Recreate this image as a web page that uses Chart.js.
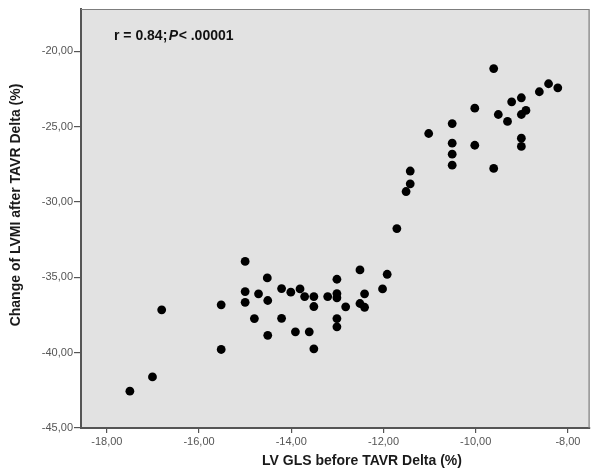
<!DOCTYPE html>
<html>
<head>
<meta charset="utf-8">
<script src="https://cdn.jsdelivr.net/npm/chart.js@4/dist/chart.umd.min.js"></script>
<style>
  html, body { margin: 0; padding: 0; background: #fff; }
</style>
</head>
<body>
<canvas id="scatter" width="594" height="469"></canvas>
<script>
// LV GLS delta (x) vs change of LVMI (y)
const glsDelta = [
  -17.50, -17.01, -16.81, -15.52, -15.52, -15.00, -15.00, -15.00, -14.80, -14.71,
  -14.52, -14.51, -14.51, -14.21, -14.21, -14.01, -13.91, -13.81, -13.71, -13.61,
  -13.51, -13.51, -13.51, -13.21, -13.01, -13.01, -13.01, -13.01, -13.01, -12.82,
  -12.51, -12.51, -12.41, -12.41, -12.02, -11.92,
  -11.71, -11.51, -11.42, -11.42, -11.02, -10.51, -10.51, -10.51, -10.51, -10.02,
  -10.02, -9.61, -9.61, -9.51, -9.31, -9.22, -9.01, -9.01, -8.91, -9.01,
  -9.01, -8.62, -8.42, -8.22
];
const lvmiDelta = [
  -42.56, -41.61, -37.16, -36.83, -39.79, -33.95, -35.95, -36.66, -37.74, -36.10,
  -35.04, -36.54, -38.85, -35.75, -37.72, -35.99, -38.62, -35.77, -36.28, -38.62,
  -36.28, -36.94, -39.75, -36.28, -35.13, -36.08, -36.36, -37.74, -38.29, -36.96,
  -34.51, -36.74, -36.99, -36.10, -35.77, -34.80,
  -31.77, -29.31, -28.80, -27.95, -25.46, -24.80, -26.10, -26.83, -27.56, -23.78,
  -26.24, -21.15, -27.78, -24.20, -24.66, -23.36, -23.09, -24.20, -23.93, -25.77,
  -26.32, -22.69, -22.16, -22.43
];
const xTicks = [-18, -16, -14, -12, -10, -8];
const yTicks = [-45, -40, -35, -30, -25, -20];
const xTitle = "LV GLS before TAVR Delta (%)";
const yTitle = "Change of LVMI after TAVR Delta (%)";
const statParts = ["r = 0.84;", "P", "< .00001"];

const FONT = '"Liberation Sans", Arial, sans-serif';

function fmt(v) {
  return Number(v).toFixed(2).replace(".", ",");
}

const plotDecor = {
  id: "plotDecor",
  beforeDraw(chart) {
    const { ctx, chartArea: a } = chart;
    ctx.save();
    ctx.fillStyle = "#ffffff";
    ctx.fillRect(0, 0, chart.width, chart.height);
    ctx.fillStyle = "#e2e2e2";
    ctx.fillRect(a.left, a.top, a.right - a.left, a.bottom - a.top);
    ctx.restore();
  },
  afterDraw(chart) {
    const { ctx, chartArea: a } = chart;
    ctx.save();
    // thin frame on top and right
    ctx.strokeStyle = "#7d7d7d";
    ctx.lineWidth = 1.2;
    ctx.beginPath();
    ctx.moveTo(a.left, a.top + 0.5);
    ctx.lineTo(a.right - 0.5, a.top + 0.5);
    ctx.lineTo(a.right - 0.5, a.bottom);
    ctx.stroke();

    // axis titles
    ctx.fillStyle = "#1a1a1a";
    ctx.font = "bold 14px " + FONT;
    ctx.textAlign = "center";
    ctx.textBaseline = "middle";
    ctx.fillText(xTitle, 362, 461);
    ctx.translate(16, 205);
    ctx.rotate(-Math.PI / 2);
    ctx.fillText(yTitle, 0, 0);
    ctx.restore();

    // correlation note
    ctx.save();
    ctx.fillStyle = "#111";
    ctx.textAlign = "left";
    ctx.textBaseline = "alphabetic";
    let x = 114;
    const y = 39.5;
    ctx.font = "bold 14px " + FONT;
    ctx.fillText(statParts[0], x, y);
    x += ctx.measureText(statParts[0]).width + 1.5;
    ctx.font = "italic bold 14px " + FONT;
    ctx.fillText(statParts[1], x, y);
    x += ctx.measureText(statParts[1]).width + 0.5;
    ctx.font = "bold 14px " + FONT;
    ctx.fillText(statParts[2], x, y);
    ctx.restore();
  }
};

const ctx = document.getElementById("scatter").getContext("2d");
new Chart(ctx, {
  type: "scatter",
  data: {
    datasets: [{
      data: glsDelta.map((v, i) => ({ x: v, y: lvmiDelta[i] })),
      backgroundColor: "#000000",
      borderWidth: 0,
      pointRadius: 4.4
    }]
  },
  options: {
    responsive: false,
    animation: false,
    layout: { padding: { top: 9, right: 2, left: 0, bottom: 0 } },
    plugins: {
      legend: { display: false },
      tooltip: { enabled: false }
    },
    scales: {
      x: {
        type: "linear",
        position: "bottom",
        min: -18.56,
        max: -7.53,
        afterBuildTicks: (axis) => { axis.ticks = xTicks.map(v => ({ value: v })); },
        afterFit: (scale) => { scale.height = 41; },
        ticks: {
          color: "#555",
          font: { family: FONT, size: 11 },
          padding: 2,
          maxRotation: 0,
          autoSkip: false,
          callback: (v) => fmt(v)
        },
        grid: { drawOnChartArea: false, drawTicks: true, tickLength: 5, color: "#555", lineWidth: 1.2 },
        border: { display: true, color: "#555", width: 2 }
      },
      y: {
        type: "linear",
        position: "left",
        min: -45,
        max: -17.2,
        afterBuildTicks: (axis) => { axis.ticks = yTicks.map(v => ({ value: v })); },
        afterFit: (scale) => { scale.width = 81; },
        ticks: {
          color: "#555",
          font: { family: FONT, size: 11 },
          padding: 1,
          autoSkip: false,
          callback: (v) => fmt(v)
        },
        grid: { drawOnChartArea: false, drawTicks: true, tickLength: 7, color: "#555", lineWidth: 1.2 },
        border: { display: true, color: "#555", width: 2 }
      }
    }
  },
  plugins: [plotDecor]
});
</script>
</body>
</html>
